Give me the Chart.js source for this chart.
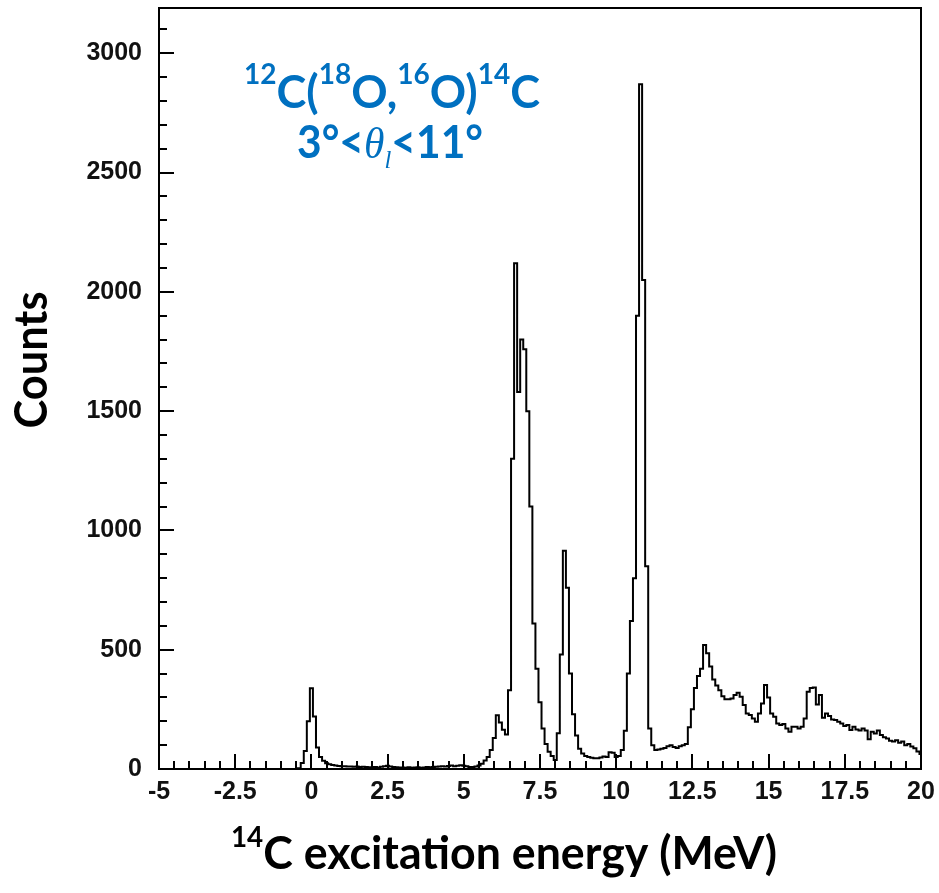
<!DOCTYPE html>
<html>
<head>
<meta charset="utf-8">
<script src="https://cdn.jsdelivr.net/npm/chart.js@4.4.0/dist/chart.umd.min.js"></script>
<style>
  html, body { margin: 0; padding: 0; background: #fff; }
  #wrap { width: 939px; height: 893px; }
</style>
</head>
<body>
<div id="wrap"><canvas id="myChart" width="939" height="893"></canvas></div>
<script>
// 14C excitation energy spectrum, 0.1 MeV bins, first bin centred at -0.5 MeV
const binWidth = 0.1;
const firstBin = -0.5;
const counts = [
  0, 3, 25, 75, 200,                                   // -0.5 .. -0.1
  338, 220, 90, 50, 35, 24, 20, 17, 15, 13,            // 0.x
  12, 12, 10, 11, 9, 10, 8, 9, 8, 7,                   // 1.x
  7, 8, 6, 9, 12, 14, 10, 8, 7, 6,                     // 2.x
  6, 5, 7, 5, 6, 7, 5, 6, 8, 7,                        // 3.x
  8, 9, 10, 12, 11, 13, 15, 12, 14, 16,                // 4.x
  14, 12, 8, 8, 10, 15, 22, 36, 50, 80,                // 5.x
  130, 225, 195, 165, 145, 330, 1300, 2120, 1580, 1800, // 6.x
  1760, 1500, 1100, 610, 420, 280, 170, 105, 72, 55,   // 7.x
  38, 150, 480, 915, 760, 400, 230, 140, 85, 65,       // 8.x
  55, 50, 47, 45, 45, 48, 52, 50, 70, 68,              // 9.x
  50, 55, 80, 160, 400, 620, 800, 1900, 2870, 2050,    // 10.x
  850, 170, 100, 80, 82, 85, 88, 95, 100, 92,          // 11.x
  88, 95, 100, 105, 175, 250, 340, 390, 420, 520,      // 12.x
  485, 430, 375, 350, 330, 305, 292, 292, 296, 310,    // 13.x
  320, 303, 268, 233, 226, 212, 198, 233, 275, 352,    // 14.x
  300, 233, 219, 191, 184, 189, 170, 156, 177, 177,    // 15.x
  170, 177, 212, 324, 340, 342, 270, 310, 215, 233,    // 16.x
  222, 208, 205, 198, 191, 180, 184, 163, 177, 166,    // 17.x
  161, 170, 161, 125, 156, 149, 161, 142, 133, 128,    // 18.x
  118, 115, 121, 110, 115, 100, 105, 94, 87, 73,       // 19.x
  63                                                   // 20.0
];
const xTickLabels = [-5, -2.5, 0, 2.5, 5, 7.5, 10, 12.5, 15, 17.5, 20];
const yTickLabels = [0, 500, 1000, 1500, 2000, 2500, 3000];
const xMinorStep = 0.5;
const yMinorStep = 100;

const BLUE = '#0070C0';

// histogram outline from bin edges
const points = [{ x: -5, y: 0 }];
counts.forEach((c, i) => {
  const centre = firstBin + i * binWidth;
  points.push({ x: +(centre - binWidth / 2).toFixed(3), y: c });
});
points.push({ x: +(firstBin + (counts.length - 0.5) * binWidth).toFixed(3), y: counts[counts.length - 1] });

// draw a row of text runs (normal / superscript / italic), squeezed to a given width
function drawRuns(ctx, runs, cx, baseline, width) {
  let total = 0;
  runs.forEach(r => { ctx.font = r.font; r.w = ctx.measureText(r.t).width; total += r.w; });
  const sx = width / total;
  ctx.save();
  ctx.translate(cx - width / 2, baseline);
  ctx.scale(sx, 1);
  ctx.textAlign = 'left';
  ctx.textBaseline = 'alphabetic';
  let x = 0;
  runs.forEach(r => { ctx.font = r.font; ctx.fillText(r.t, x, r.dy || 0); x += r.w; });
  ctx.restore();
}

const frameAndText = {
  id: 'frameAndText',
  afterDraw(chart) {
    const { ctx, chartArea: a, scales: { x, y } } = chart;
    ctx.save();
    ctx.strokeStyle = '#000';
    ctx.lineWidth = 2;

    // ticks inside the frame
    ctx.beginPath();
    for (let v = -5; v <= 20 + 1e-6; v += xMinorStep) {
      const px = Math.round(x.getPixelForValue(v));
      const major = xTickLabels.some(t => Math.abs(t - v) < 1e-6);
      ctx.moveTo(px, a.bottom);
      ctx.lineTo(px, a.bottom - (major ? 15 : 8));
    }
    for (let v = 0; v <= 3190; v += yMinorStep) {
      const py = Math.round(y.getPixelForValue(v));
      const major = v % 500 === 0;
      ctx.moveTo(a.left, py);
      ctx.lineTo(a.left + (major ? 15 : 8), py);
    }
    ctx.stroke();

    ctx.strokeRect(a.left, a.top, a.right - a.left, a.bottom - a.top);
    ctx.restore();

    // reaction label
    ctx.save();
    ctx.fillStyle = BLUE;
    const big = 'bold 45px Lato', sup = 'bold 28px Lato';
    drawRuns(ctx, [
      { t: '12', font: sup, dy: -24 }, { t: 'C(', font: big },
      { t: '18', font: sup, dy: -24 }, { t: 'O,', font: big },
      { t: '16', font: sup, dy: -24 }, { t: 'O)', font: big },
      { t: '14', font: sup, dy: -24 }, { t: 'C', font: big }
    ], 392, 108, 296);
    drawRuns(ctx, [
      { t: '3°<', font: big },
      { t: 'θ', font: 'italic 44px "Liberation Serif"' },
      { t: 'l', font: 'italic 26px "Liberation Serif"', dy: 10 },
      { t: '<11°', font: big }
    ], 390, 158, 186);
    ctx.restore();

    // axis titles
    ctx.save();
    ctx.fillStyle = '#000';
    ctx.translate(47, 360);
    ctx.rotate(-Math.PI / 2);
    drawRuns(ctx, [{ t: 'Counts', font: 'bold 45px Lato' }], 0, 0, 137);
    ctx.restore();

    ctx.save();
    ctx.fillStyle = '#000';
    drawRuns(ctx, [
      { t: '14', font: 'bold 28px Lato', dy: -22 },
      { t: 'C excitation energy (MeV)', font: 'bold 45px Lato' }
    ], 504, 869, 546);
    ctx.restore();
  }
};

const tickFont = { family: '"Liberation Sans", Arial, sans-serif', weight: 'bold', size: 25 };

new Chart(document.getElementById('myChart'), {
  type: 'line',
  data: {
    datasets: [{
      data: points,
      stepped: 'before',
      borderColor: '#000',
      borderWidth: 2,
      pointRadius: 0,
      fill: false
    }]
  },
  options: {
    responsive: false,
    animation: false,
    layout: { padding: { top: 8, right: 18, left: 0, bottom: 0 } },
    plugins: { legend: { display: false }, tooltip: { enabled: false } },
    scales: {
      x: {
        type: 'linear', min: -5, max: 20,
        grid: { display: false, drawTicks: false },
        border: { display: false },
        afterBuildTicks: s => { s.ticks = xTickLabels.map(v => ({ value: v })); },
        afterFit: s => { s.height = 124; s.paddingLeft = 0; s.paddingRight = 0; },
        ticks: { font: tickFont, color: '#111', padding: 8, maxRotation: 0, autoSkip: false, callback: v => String(v) }
      },
      y: {
        min: 0, max: 3190,
        grid: { display: false, drawTicks: false },
        border: { display: false },
        afterBuildTicks: s => { s.ticks = yTickLabels.map(v => ({ value: v })); },
        afterFit: s => { s.width = 159; s.paddingTop = 0; s.paddingBottom = 0; },
        ticks: { font: tickFont, color: '#111', padding: 17, callback: v => String(v) }
      }
    }
  },
  plugins: [frameAndText]
});
</script>
</body>
</html>
